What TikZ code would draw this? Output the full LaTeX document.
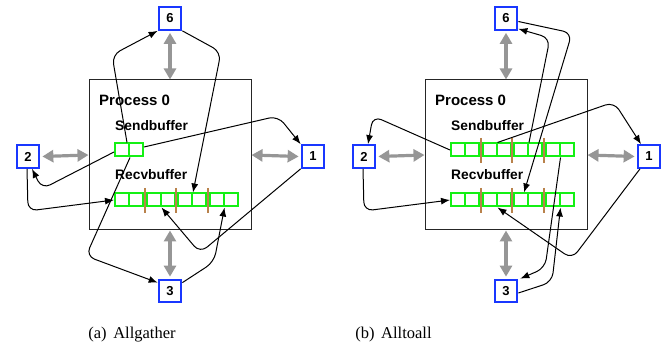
\documentclass[tikz,border=0pt]{standalone}
\usepackage{fontspec}
\setmainfont{Liberation Serif}
\setsansfont{Liberation Sans}
\usetikzlibrary{arrows.meta}

\definecolor{rankblue}{RGB}{25,55,255}
\definecolor{cellgreen}{RGB}{20,240,20}
\definecolor{barbrown}{RGB}{185,130,75}
\definecolor{linkgray}{RGB}{150,150,150}

\tikzset{
  proc/.style={draw=black!85, line width=1pt, minimum width=162, minimum height=150, inner sep=0pt},
  rank/.style={draw=rankblue, fill=white, line width=2.2pt, minimum size=22.5, inner sep=0pt,
               font=\sffamily\bfseries\fontsize{13}{13}\selectfont},
  cell/.style={draw=cellgreen, line width=2pt, minimum width=14, minimum height=13, inner sep=0pt},
  sepbar/.style={draw=barbrown, line width=1.8pt},
  title/.style={anchor=base west, inner sep=0pt, font=\sffamily\bfseries\fontsize{15}{15}\selectfont},
  bufname/.style={anchor=base west, inner sep=0pt, font=\sffamily\bfseries\fontsize{13.8}{13.8}\selectfont},
  dual/.style={draw=linkgray, line width=3.2pt,
               {Triangle[length=11pt,width=12pt]}-{Triangle[length=11pt,width=12pt]}},
  msg/.style={draw=black, line width=1pt, rounded corners=9pt, -{Latex[length=9pt,width=7pt]}},
  caption/.style={anchor=base, inner sep=0pt, font=\fontsize{16.5}{16.5}\selectfont}
}

% one buffer row of four two-cell blocks: name prefix, vertical position
\newcommand\bufrow[2]{%
  \foreach \g in {0,...,3}{%
    \foreach \c in {0,1}{%
      \pgfmathtruncatemacro\k{2*\g+\c+1}%
      \node[cell] (#1\k) at ({122+14*\c+31.5*\g},#2) {};
    }%
  }%
  \foreach \xb in {144.75,176.25,207.75}
    \draw[sepbar] (\xb,#2-12) -- (\xb,#2+13);
}

% process box, its neighbour ranks, the links to them and the receive buffer
\newcommand\procpanel[1]{%
  \node[proc] (#1proc) at (170,155) {};
  \node[rank] (#16) at (170,18.5) {6};
  \node[rank] (#12) at (28,156.5) {2};
  \node[rank] (#11) at (313,156.5) {1};
  \node[rank] (#13) at (170,291) {3};
  \node[title] (#1name) at (99,106) {Process 0};
  \node[bufname] (#1sname) at (115,131) {Sendbuffer};
  \node[bufname] (#1rname) at (115,180) {Recvbuffer};
  \bufrow{#1r}{200}
  \draw[dual] ([yshift=-2pt]#16.south) -- (#1proc.north);
  \draw[dual] (#1proc.south) -- ([yshift=2pt]#13.north);
  \draw[dual] ([xshift=2pt]#12.east) -- (#1proc.west);
  \draw[dual] (#1proc.east) -- ([xshift=-2pt]#11.west);
}

\begin{document}
\begin{tikzpicture}[x=1pt, y=-1pt]
  \useasboundingbox (0,0) rectangle (672,347);

  % ---- Allgather ----
  \procpanel{a}
  \node[cell] (as1) at (122,150) {};
  \node[cell] (as2) at (136,150) {};
  \draw[msg] ([xshift=-3pt]as1.north east) -- (112,55) -- (a6.south west);
  \draw[msg] (a6.south east) -- (221,52) -- (ar5.north east);
  \draw[msg] ([yshift=3pt]as2.east) -- (278,116) -- (a1.north west);
  \draw[msg] ([yshift=-2pt]as1.west) -- (42,189) -- ([xshift=4pt]a2.south);
  \draw[msg] ([xshift=-1pt]a2.south) -- (28,211) -- (ar1.west);
  \draw[msg] (as1.south east) -- (86,256) -- ([yshift=-4pt]a3.north west);
  \draw[msg] ([yshift=-4pt]a3.north east) -- (214,262) -- (ar7.south east);
  \draw[msg] (a1.south west) -- (200,253) -- (ar3.south east);

  % ---- Alltoall ----
  \begin{scope}[xshift=336pt]
    \procpanel{b}
    \bufrow{bs}{150}
    \draw[msg] (bs1.west) -- (37,116) -- ([xshift=4pt]b2.north);
    \draw[msg] (bs3.north east) -- (278,102) -- ([xshift=-8pt]b1.north);
    \draw[msg] (bs5.north east) -- (214,38) -- ([yshift=2pt]b6.south east);
    \draw[msg] ([yshift=-3pt]b6.east) -- (236,33) -- ([xshift=3pt]br5.north);
    \draw[msg] ([xshift=-1pt]b2.south) -- (28,211) -- (br1.west);
    \draw[msg] ([xshift=-9pt]b1.south) -- (236,259) -- (br3.south east);
    \draw[msg] (bs7.south east) -- (209,268) -- ([xshift=2pt]b3.north east);
    \draw[msg] ([yshift=-2pt]b3.east) -- (216,282) -- (br7.south east);
  \end{scope}

  \node[caption] (capa) at (132,338) {(a)\hspace{0.4em}Allgather};
  \node[caption] (capb) at (393.5,338) {(b)\hspace{0.4em}Alltoall};
\end{tikzpicture}
\end{document}
